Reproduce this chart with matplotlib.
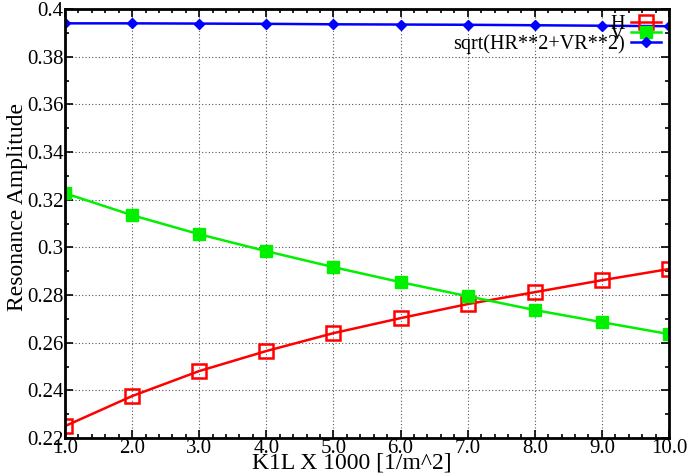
import matplotlib
matplotlib.use("Agg")
import matplotlib.pyplot as plt
from matplotlib.ticker import MultipleLocator, FormatStrFormatter

k1l = [1.0, 2.0, 3.0, 4.0, 5.0, 6.0, 7.0, 8.0, 9.0, 10.0]
h_amp = [0.2250, 0.2376, 0.2481, 0.2565, 0.2640, 0.2703, 0.2762, 0.2812, 0.2862, 0.2909]
v_amp = [0.3227, 0.3135, 0.3055, 0.2984, 0.2917, 0.2854, 0.2795, 0.2737, 0.2686, 0.2636]
sqrt_amp = [0.3940, 0.3940, 0.3939, 0.3938, 0.3936, 0.3935, 0.3934, 0.3932, 0.3930, 0.3928]

plt.rcParams.update({
    "font.family": ["Liberation Serif", "DejaVu Serif"],
    "font.size": 15,
})

fig = plt.figure(figsize=(6.9, 4.76), dpi=100)
ax = fig.add_axes([0.0942, 0.0798, 0.8754, 0.9012])

ax.plot(k1l, h_amp, color="#ff0000", lw=1.8, marker="s", ms=10,
        mfc="none", mew=1.8, label="H")
ax.plot(k1l, v_amp, color="#00f000", lw=1.8, marker="s", ms=8.5,
        label="V")
ax.plot(k1l, sqrt_amp, color="#0000ff", lw=1.8, marker="D", ms=5,
        label="sqrt(HR**2+VR**2)")

ax.set_xlim(1.0, 10.0)
ax.set_ylim(0.22, 0.4)
ax.xaxis.set_major_locator(MultipleLocator(1.0))
ax.xaxis.set_minor_locator(MultipleLocator(0.2))
ax.yaxis.set_major_locator(MultipleLocator(0.02))
ax.yaxis.set_minor_locator(MultipleLocator(0.01))
ax.xaxis.set_major_formatter(FormatStrFormatter("%.1f"))
ax.yaxis.set_major_formatter(FormatStrFormatter("%g"))
ax.tick_params(which="both", direction="in", top=True, right=True, width=1.2)
ax.tick_params(which="major", length=6, pad=1)
ax.tick_params(which="minor", length=3)
for s in ax.spines.values():
    s.set_linewidth(2)
ax.grid(True, which="major", color="#555555", ls=(0, (1, 2)), lw=0.8)

ax.set_xlabel("K1L X 1000 [1/m^2]", fontsize=17)
ax.set_ylabel("Resonance Amplitude", fontsize=17)
ax.xaxis.set_label_coords(0.475, -0.034)
ax.yaxis.set_label_coords(-0.062, 0.538)

ax.legend(loc="upper right", bbox_to_anchor=(1.0, 1.006), frameon=False,
          markerfirst=False, labelspacing=-0.45, handlelength=1.5,
          handletextpad=0.3, borderaxespad=0.0, fontsize=14.5)

fig.savefig("out.png", dpi=100)
